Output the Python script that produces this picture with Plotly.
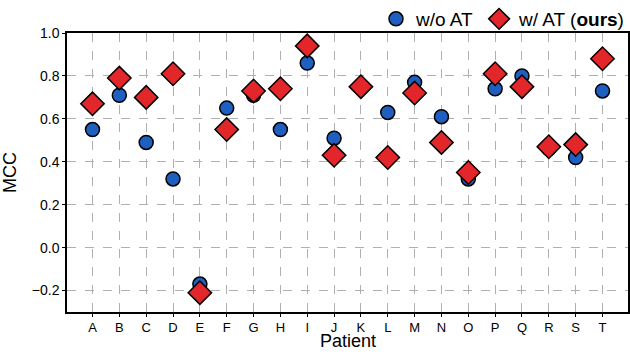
from plotly import graph_objects as go

patients = list("ABCDEFGHIJKLMNOPQRST")

mcc_without_at = [0.55, 0.71, 0.49, 0.32, -0.17, 0.65, 0.71, 0.55, 0.86, 0.51,
                  0.745, 0.63, 0.77, 0.61, 0.32, 0.74, 0.80, 0.46, 0.42, 0.73]
mcc_with_at = [0.67, 0.79, 0.70, 0.81, -0.21, 0.55, 0.73, 0.74, 0.94, 0.43,
               0.75, 0.42, 0.72, 0.49, 0.35, 0.81, 0.75, 0.47, 0.48, 0.88]

y_ticks = [-0.2, 0.0, 0.2, 0.4, 0.6, 0.8, 1.0]

font = "Liberation Sans, Arial, sans-serif"

fig = go.Figure()
fig.add_trace(go.Scatter(x=patients, y=mcc_without_at, mode="markers", name="w/o AT",
                         marker=dict(symbol="circle", size=14, color="#1f5fbf",
                                     line=dict(color="black", width=1.5))))
fig.add_trace(go.Scatter(x=patients, y=mcc_with_at, mode="markers", name="w/ AT (<b>ours</b>)",
                         marker=dict(symbol="diamond", size=18, color="#e3262a",
                                     line=dict(color="black", width=1.5))))

axis_style = dict(showline=True, mirror=True, linecolor="black", linewidth=1.5,
                  showgrid=True, gridcolor="#b0b0b0", griddash="dash", gridwidth=1,
                  ticks="outside", ticklen=3, tickcolor="black", tickwidth=1,
                  layer="above traces", zeroline=False, automargin=False)

fig.update_xaxes(range=[-0.95, 19.95], tickfont=dict(size=13, color="black", family=font),
                 **axis_style)
fig.update_yaxes(title=dict(text="MCC", font=dict(size=18, color="black", family=font)),
                 range=[-0.3, 1.0], tickvals=y_ticks, tickformat=".1f",
                 tickfont=dict(size=14, color="black", family=font), **axis_style)

# x-axis title as a bottom-anchored annotation so it sits at the page edge like the original
fig.add_annotation(text="Patient", xref="paper", yref="paper", x=0.5, y=-40 / 279,
                   xanchor="center", yanchor="bottom", showarrow=False, borderpad=0,
                   font=dict(size=18, color="black", family=font))

fig.update_layout(width=630, height=352, margin=dict(l=67, r=2, t=33, b=40, autoexpand=False),
                  plot_bgcolor="white", paper_bgcolor="white",
                  font=dict(family=font, color="black"),
                  legend=dict(orientation="h", xref="container", yref="container",
                              x=1.0, xanchor="right", y=1.0, yanchor="top",
                              font=dict(size=19, color="black", family=font),
                              itemwidth=30, tracegroupgap=0, bgcolor="rgba(0,0,0,0)"))

# drop the browser's default body margin so the figure sits at the page corner
fig.write_html("out.html", config={"displayModeBar": False},
               post_script="document.body.style.margin='0';")
